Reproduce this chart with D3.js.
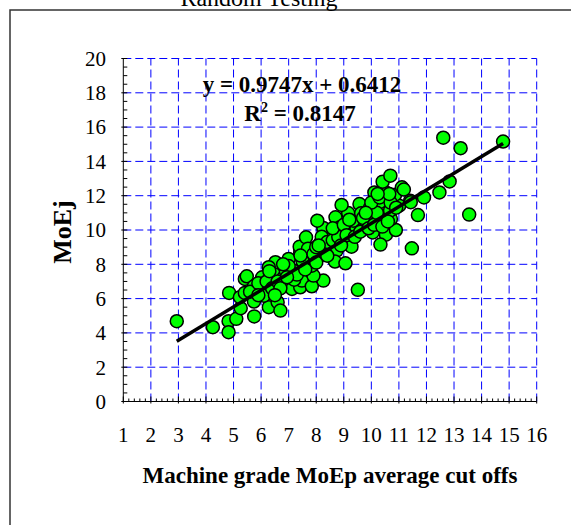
<!DOCTYPE html>
<html lang="en">
<head>
    <meta charset="UTF-8">
    <title>Random Testing</title>
    <style>
        body {
            margin: 0;
            background-color: #ffffff;
        }
        svg {
            display: block;
            font-family: "Times New Roman", "Liberation Serif", serif;
        }
    </style>
</head>
<body>
    <svg id="chart"></svg>

    <script src="https://d3js.org/d3.v7.min.js"></script>
    <script>
        // Machine grade MoEp (x) vs MoEj (y)
        const moep = [2.94, 4.25, 4.82, 4.82, 4.84, 5.10, 5.26, 5.75, 5.23, 5.41, 5.41, 5.48, 5.74, 5.74,
            6.28, 6.60, 6.70, 6.10, 6.04, 6.46, 6.82, 6.52, 6.28, 7.00, 6.95, 7.12, 7.42, 7.48,
            7.18, 7.84, 8.26, 7.90, 7.84, 7.78, 7.42, 7.40, 7.63, 8.14, 8.14, 8.50, 8.26, 8.04,
            8.70, 8.86, 8.74, 8.68, 9.06, 9.28, 9.46, 9.34, 9.16, 8.92, 9.57, 9.63, 9.96, 9.81,
            10.17, 10.05, 10.53, 10.33, 10.89, 10.71, 10.47, 10.68, 11.01, 10.29, 10.11, 10.56, 10.86, 11.11,
            10.41, 10.69, 11.41, 11.91, 11.69, 11.47, 12.47, 12.84, 12.61, 13.24, 14.78, 13.55, 9.51,
            5.60, 5.90, 6.20, 6.40, 6.60, 6.70, 6.90, 6.30, 5.90, 6.50, 7.20, 7.30, 7.00, 6.80, 6.94,
            7.50, 7.70, 7.90, 8.00, 8.20, 8.30, 8.40, 8.60, 8.80, 8.90, 8.00, 7.60, 8.40, 8.60,
            9.00, 9.10, 9.40, 9.60, 9.20, 9.70, 9.90, 10.10, 10.20, 10.40, 10.60, 10.00, 9.80, 10.30,
            10.70, 10.90, 10.65, 10.23, 11.43, 11.18, 7.43, 8.09];
        const moej = [4.68, 4.33, 4.68, 4.04, 6.33, 4.82, 5.44, 4.96, 6.08, 6.33, 7.15, 7.30, 6.72, 5.83,
            5.50, 5.79, 5.30, 6.17, 7.24, 7.44, 7.24, 8.12, 7.83, 8.31, 6.95, 6.56, 6.66, 7.05,
            7.63, 6.72, 7.05, 7.34, 7.92, 8.41, 8.70, 9.03, 9.57, 8.50, 9.24, 9.77, 10.12, 10.54,
            10.74, 10.16, 8.80, 8.16, 8.06, 9.03, 10.10, 10.54, 10.99, 11.46, 11.51, 10.97, 11.32, 10.45,
            10.60, 9.86, 9.73, 9.15, 10.00, 10.64, 10.83, 11.13, 11.42, 11.61, 12.19, 12.16, 12.06, 12.49,
            12.82, 13.17, 11.71, 11.90, 10.87, 8.93, 12.19, 12.83, 15.38, 14.77, 15.16, 10.90, 6.51,
            6.40, 6.90, 7.00, 6.60, 7.00, 6.60, 7.60, 7.60, 6.20, 6.20, 7.10, 7.40, 7.90, 8.00, 7.25,
            8.20, 8.90, 8.60, 9.00, 9.60, 8.90, 9.30, 9.40, 9.60, 9.10, 8.10, 7.70, 8.50, 10.10,
            10.30, 9.70, 9.60, 9.90, 10.60, 10.70, 10.10, 10.30, 11.00, 10.20, 10.50, 11.60, 11.00, 11.90,
            11.60, 11.30, 12.10, 12.10, 11.62, 12.36, 8.51, 9.10];

        // Linear fit shown on the chart
        const slope = 0.9747;
        const intercept = 0.6412;
        const rSquared = '0.8147';
        const fitRange = [2.94, 14.78];

        const xTicks = d3.range(1, 17);          // 1 .. 16
        const yTicks = d3.range(0, 21, 2);       // 0 .. 20

        const width = 571;
        const height = 525;

        const svg = d3.select('#chart')
            .attr('width', width)
            .attr('height', height);

        // outer chart border (runs off the right and bottom edge)
        svg.append('rect')
            .attr('x', 10)
            .attr('y', 10)
            .attr('width', 620)
            .attr('height', 560)
            .attr('fill', 'none')
            .attr('stroke', '#333')
            .attr('stroke-width', 1.5);

        // title, mostly cut off at the top
        svg.append('text')
            .attr('x', 259)
            .attr('y', 6)
            .attr('text-anchor', 'middle')
            .style('font-size', '24px')
            .text('Random Testing');

        const x = d3.scaleLinear().domain([1, 16]).range([123.3, 536.7]);
        const y = d3.scaleLinear().domain([0, 20]).range([401.5, 58.5]);

        // dashed blue gridlines
        svg.append('g')
            .selectAll('line')
            .data(yTicks.slice(1))
            .enter()
            .append('line')
            .attr('x1', x(1))
            .attr('x2', x(16))
            .attr('y1', d => y(d))
            .attr('y2', d => y(d))
            .attr('stroke', '#0000ff')
            .attr('stroke-dasharray', '8,4');

        svg.append('g')
            .selectAll('line')
            .data(xTicks.slice(1))
            .enter()
            .append('line')
            .attr('x1', d => x(d))
            .attr('x2', d => x(d))
            .attr('y1', y(0))
            .attr('y2', y(20))
            .attr('stroke', '#0000ff')
            .attr('stroke-dasharray', '8,4');

        // y axis: minor ticks every 0.5, inward
        const yAxis = svg.append('g');
        yAxis.append('line')
            .attr('x1', x(1)).attr('x2', x(1))
            .attr('y1', y(0)).attr('y2', y(20))
            .attr('stroke', '#000');
        yAxis.selectAll('.minor')
            .data(d3.range(0, 20.01, 0.5))
            .enter()
            .append('line')
            .attr('x1', d => x(1) - (d % 2 === 0 ? 2 : 0))
            .attr('x2', d => x(1) + 4)
            .attr('y1', d => y(d))
            .attr('y2', d => y(d))
            .attr('stroke', '#000');
        yAxis.selectAll('text')
            .data(yTicks)
            .enter()
            .append('text')
            .attr('x', 106)
            .attr('y', d => y(d))
            .attr('dy', '0.35em')
            .attr('text-anchor', 'end')
            .style('font-size', '21px')
            .text(d => d);

        // x axis: minor ticks every 0.2, inward
        const xAxis = svg.append('g');
        xAxis.append('line')
            .attr('x1', x(1)).attr('x2', x(16))
            .attr('y1', y(0)).attr('y2', y(0))
            .attr('stroke', '#000');
        xAxis.selectAll('.minor')
            .data(d3.range(0, 76).map(i => 1 + i * 0.2))
            .enter()
            .append('line')
            .attr('x1', d => x(d))
            .attr('x2', d => x(d))
            .attr('y1', (d, i) => y(0) + (i % 5 === 0 ? 2 : 0))
            .attr('y2', (d, i) => y(0) - (i % 5 === 0 ? 5 : 3))
            .attr('stroke', '#000');
        xAxis.selectAll('text')
            .data(xTicks)
            .enter()
            .append('text')
            .attr('x', d => x(d))
            .attr('y', 442)
            .attr('text-anchor', 'middle')
            .style('font-size', '21px')
            .text(d => d);

        // axis titles
        svg.append('text')
            .attr('x', 330)
            .attr('y', 483)
            .attr('text-anchor', 'middle')
            .style('font-size', '23px')
            .style('font-weight', 'bold')
            .text('Machine grade MoEp average cut offs');

        svg.append('text')
            .attr('transform', 'translate(71, 232) rotate(-90)')
            .attr('text-anchor', 'middle')
            .style('font-size', '26px')
            .style('font-weight', 'bold')
            .text('MoEj');

        // points
        svg.append('g')
            .selectAll('circle')
            .data(d3.zip(moep, moej))
            .enter()
            .append('circle')
            .attr('cx', d => x(d[0]))
            .attr('cy', d => y(d[1]))
            .attr('r', 6.5)
            .attr('fill', '#00ff00')
            .attr('stroke', '#000')
            .attr('stroke-width', 1.5);

        // trend line on top of the points
        const line = d3.line()
            .x(d => x(d))
            .y(d => y(slope * d + intercept));
        svg.append('path')
            .datum(fitRange)
            .attr('d', line)
            .attr('stroke', '#000')
            .attr('stroke-width', 3.5)
            .attr('fill', 'none');

        // fit equation
        svg.append('text')
            .attr('x', 302)
            .attr('y', 92)
            .attr('text-anchor', 'middle')
            .style('font-size', '23px')
            .style('font-weight', 'bold')
            .text(`y = ${slope}x + ${intercept}`);

        const r2 = svg.append('text')
            .attr('x', 300)
            .attr('y', 121)
            .attr('text-anchor', 'middle')
            .style('font-size', '23px')
            .style('font-weight', 'bold');
        r2.append('tspan').text('R');
        r2.append('tspan').attr('dy', -9).style('font-size', '14px').text('2');
        r2.append('tspan').attr('dy', 9).text(` = ${rSquared}`);
    </script>
</body>
</html>
